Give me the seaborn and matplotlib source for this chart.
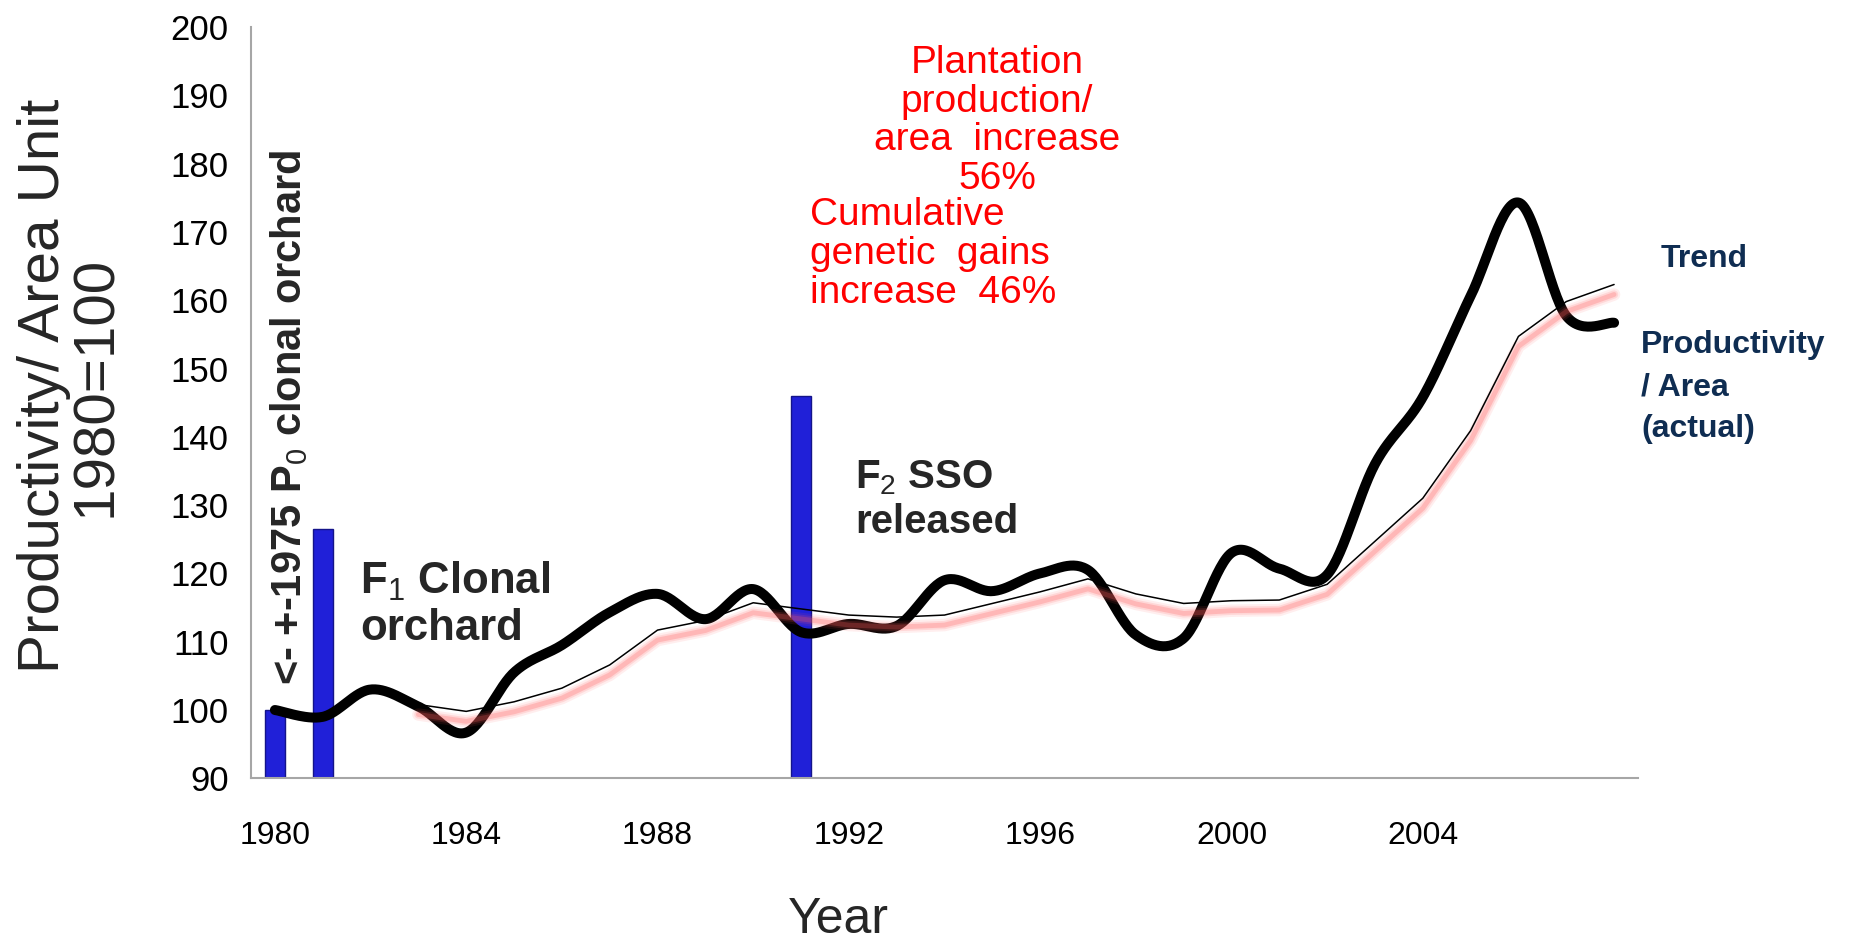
import numpy as np
import pandas as pd
import matplotlib
matplotlib.use("Agg")
import matplotlib.pyplot as plt
import matplotlib.transforms as mtransforms
from matplotlib import font_manager
import seaborn as sns

# ---- data -------------------------------------------------------------
years = list(range(1980, 2009))
actual = [100.0, 99.0, 103.0, 100.5, 96.7, 105.5, 109.5, 114.3, 117.0, 113.3,
          117.7, 111.4, 112.6, 112.3, 119.0, 117.4, 120.0, 120.5, 111.0, 110.5,
          123.0, 120.7, 119.8, 136.0, 145.8, 160.6, 174.3, 157.7, 156.7]
trend = [np.nan, np.nan, np.nan, 100.8, 99.8, 101.2, 103.2, 106.6, 111.7, 113.1,
         115.7, 114.8, 113.9, 113.6, 113.9, 115.6, 117.3, 119.2, 117.0, 115.6,
         116.0, 116.1, 118.4, 124.7, 131.0, 140.9, 154.7, 159.8, 162.3]
release_years = [1980, 1981, 1991]
release_heights = [100.0, 126.5, 146.0]
tick_years = [1980, 1984, 1988, 1992, 1996, 2000, 2004]
y_ticks = list(range(90, 201, 10))


def has_font(name):
    try:
        font_manager.findfont(font_manager.FontProperties(family=name),
                              fallback_to_default=False)
        return True
    except Exception:
        return False


sns.set_theme(style="white")
SANS = "Liberation Sans"
NARROW = "Liberation Sans Narrow" if has_font("Liberation Sans Narrow") else SANS
plt.rcParams["font.family"] = [SANS, "DejaVu Sans"]
plt.rcParams["mathtext.fontset"] = "custom"
plt.rcParams["mathtext.rm"] = SANS
plt.rcParams["mathtext.bf"] = SANS + ":bold"


def catmull_rom(xs, ys, n=30):
    """Smooth curve through every point (Excel-style smoothed line)."""
    x = np.asarray(xs, float)
    y = np.asarray(ys, float)
    px = np.concatenate([[x[0]], x, [x[-1]]])
    py = np.concatenate([[y[0]], y, [y[-1]]])
    t = np.linspace(0, 1, n, endpoint=False)[:, None]
    out = []
    for i in range(1, len(px) - 2):
        p0 = np.array([px[i - 1], py[i - 1]])
        p1 = np.array([px[i], py[i]])
        p2 = np.array([px[i + 1], py[i + 1]])
        p3 = np.array([px[i + 2], py[i + 2]])
        c1 = p1 + (p2 - p0) / 6.0
        c2 = p2 - (p3 - p1) / 6.0
        seg = ((1 - t) ** 3) * p1 + 3 * ((1 - t) ** 2) * t * c1 \
            + 3 * (1 - t) * t ** 2 * c2 + t ** 3 * p2
        out.append(seg)
    out.append(np.array([[x[-1], y[-1]]]))
    pts = np.vstack(out)
    return pts[:, 0], pts[:, 1]


df = pd.DataFrame({"year": years, "actual": actual, "trend": trend})
sx, sy = catmull_rom(df["year"], df["actual"])
smooth_df = pd.DataFrame({"year": sx, "actual": sy})
trend_df = df.dropna(subset=["trend"])

W, H = 1851, 944
fig = plt.figure(figsize=(W / 100, H / 100), dpi=100)
ax = fig.add_axes([251 / W, 1 - 778.3 / H, (1638 - 251) / W, (778.3 - 27) / H])

# release bars
ax.bar(release_years, release_heights, width=0.42, color="#2020d8",
       edgecolor="#14148a", linewidth=1.0, zorder=1)

# actual productivity, smoothed thick black line
sns.lineplot(data=smooth_df, x="year", y="actual", color="black", linewidth=7.2,
             estimator=None, sort=False, ax=ax, zorder=3,
             solid_capstyle="round", solid_joinstyle="round")

# soft pink glow under the trend line
glow = mtransforms.offset_copy(ax.transData, fig=fig, x=0, y=-10, units="dots")
for lw, a in [(9, 0.10), (6, 0.15), (3.5, 0.25)]:
    ax.plot(trend_df["year"], trend_df["trend"], color="#ff5a5a", alpha=a,
            linewidth=lw, transform=glow, zorder=4, solid_capstyle="round")

# trend, thin black line
sns.lineplot(data=trend_df, x="year", y="trend", color="black", linewidth=1.1,
             estimator=None, sort=False, ax=ax, zorder=5)

# axes
ax.set_xlim(1979.5, 2008.5)
ax.set_ylim(90, 200)
ax.set_xticks(tick_years)
ax.set_xticklabels([str(v) for v in tick_years], fontfamily=NARROW, fontsize=23)
ax.set_yticks(y_ticks)
ax.set_yticklabels([str(v) for v in y_ticks], fontfamily=SANS, fontsize=25)
ax.tick_params(axis="both", length=0, colors="black")
ax.tick_params(axis="x", pad=31)
ax.tick_params(axis="y", pad=16)
ax.set_xlabel("")
ax.set_ylabel("")
for side in ["top", "right"]:
    ax.spines[side].set_visible(False)
for side in ["left", "bottom"]:
    ax.spines[side].set_color("#a6a6a6")
    ax.spines[side].set_linewidth(1.5)
ax.grid(False)


def fx(px):
    return px / W


def fy(py):
    return 1 - py / H


# axis titles
fig.text(fx(838), fy(920), "Year", fontfamily=NARROW, fontsize=36,
         ha="center", va="center")
fig.text(fx(70), fy(386), "Productivity/ Area Unit\n1980=100", fontfamily=SANS,
         fontsize=42, rotation=90, ha="center", va="center", linespacing=0.95,
         multialignment="center")

# annotations
fig.text(fx(289), fy(417), "<- +-1975 P$_0$ clonal orchard", fontsize=30,
         fontweight="bold", rotation=90, ha="center", va="center")
fig.text(fx(360), fy(560), "F$_1$ Clonal\norchard", fontsize=31.5,
         fontweight="bold", ha="left", va="top", linespacing=1.15)
fig.text(fx(855), fy(458), "F$_2$ SSO\nreleased", fontsize=29,
         fontweight="bold", ha="left", va="top", linespacing=1.2)
fig.text(fx(810), fy(254), "Cumulative\ngenetic  gains\nincrease  46%",
         fontfamily=NARROW, fontsize=28, color="#ff0000", ha="left",
         va="center", linespacing=1.1)
fig.text(fx(997), fy(121), "Plantation\nproduction/\narea  increase\n56%",
         fontfamily=NARROW, fontsize=28, color="#ff0000", ha="center",
         va="center", linespacing=1.1, multialignment="center")
fig.text(fx(1661), fy(259), "Trend", fontsize=23, fontweight="bold",
         color="#0f2d52", ha="left", va="center")
fig.text(fx(1641), fy(387), "Productivity\n/ Area\n(actual)", fontsize=23,
         fontweight="bold", color="#0f2d52", ha="left", va="center",
         linespacing=1.5)

fig.savefig("out.png", dpi=100)
